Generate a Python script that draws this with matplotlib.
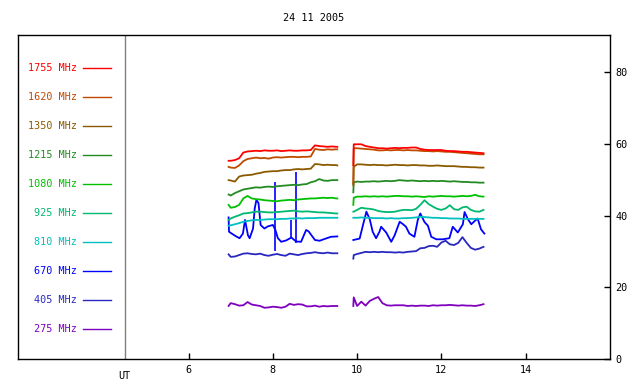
import numpy as np
import matplotlib
matplotlib.use('Agg')
import matplotlib.pyplot as plt

# frequencies (top to bottom in the legend) and colours
freqs = ['1755', '1620', '1350', '1215', '1080', '925', '810', '670', '405', '275']
colors = ['#ff0000', '#c04a00', '#8b5a00', '#228b22', '#00c000',
          '#00b870', '#00c0c0', '#0000ff', '#2828c0', '#8000c0']

# time grids (UT hours) for the two recorded segments
t1 = [6.95, 7.0, 7.1, 7.2, 7.3, 7.4, 7.5, 7.6, 7.7, 7.8, 7.9, 8.0, 8.1, 8.2,
      8.3, 8.4, 8.5, 8.6, 8.7, 8.8, 8.9, 9.0, 9.1, 9.2, 9.3, 9.4, 9.5, 9.53]
t2 = [9.91, 9.92, 10.0, 10.1, 10.2, 10.3, 10.4, 10.5, 10.6, 10.7, 10.8, 10.9,
      11.0, 11.1, 11.2, 11.3, 11.4, 11.5, 11.6, 11.7, 11.8, 11.9, 12.0, 12.1,
      12.2, 12.3, 12.4, 12.5, 12.6, 12.7, 12.8, 12.9, 13.0]

s1755_a = [55.3, 55.3, 55.5, 56.0, 57.6, 57.9, 58.0, 58.1, 58.0, 58.2, 58.1, 58.1, 58.2, 58.0,
           58.1, 58.2, 58.1, 58.1, 58.2, 58.2, 58.3, 59.6, 59.4, 59.3, 59.2, 59.3, 59.2, 59.2]
s1755_b = [54.1, 59.9, 59.9, 59.9, 59.4, 59.2, 59.0, 58.8, 58.8, 58.7, 58.8, 58.9, 58.8, 58.9,
           58.9, 59.0, 59.0, 58.6, 58.4, 58.3, 58.3, 58.3, 58.3, 58.1, 58.0, 58.0, 57.9, 57.8,
           57.8, 57.7, 57.6, 57.5, 57.4]

s1620_a = [53.6, 53.4, 53.3, 54.0, 55.2, 55.8, 56.0, 56.2, 56.0, 56.1, 55.9, 56.2, 56.3, 56.2,
           56.3, 56.4, 56.4, 56.3, 56.4, 56.4, 56.5, 58.6, 58.4, 58.3, 58.5, 58.4, 58.5, 58.5]
s1620_b = [49.0, 58.8, 58.8, 58.7, 58.6, 58.5, 58.4, 58.2, 58.2, 58.3, 58.2, 58.3, 58.3, 58.2,
           58.3, 58.2, 58.2, 58.1, 58.0, 58.0, 57.9, 58.0, 57.9, 57.8, 57.8, 57.7, 57.6, 57.5,
           57.4, 57.3, 57.2, 57.1, 57.1]

s1350_a = [49.9, 49.8, 49.5, 50.9, 51.2, 51.3, 51.4, 51.7, 51.9, 52.2, 52.3, 52.4, 52.4, 52.6,
           52.7, 52.7, 52.9, 53.0, 52.9, 53.0, 53.1, 54.4, 54.3, 54.1, 54.2, 54.1, 54.1, 54.0]
s1350_b = [48.5, 53.6, 54.3, 54.3, 54.2, 54.1, 54.2, 54.1, 54.1, 54.0, 54.1, 54.2, 54.1, 54.1,
           54.0, 54.1, 54.1, 54.0, 54.0, 53.9, 53.9, 54.0, 53.9, 53.8, 53.8, 53.8, 53.7, 53.6,
           53.6, 53.5, 53.5, 53.4, 53.4]

s1215_a = [45.9, 45.6, 46.3, 46.8, 47.3, 47.5, 47.7, 47.9, 47.8, 48.0, 48.1, 48.0, 48.2, 48.3,
           48.4, 48.5, 48.6, 48.5, 48.7, 48.8, 49.3, 49.6, 50.2, 49.8, 49.7, 49.9, 49.9, 49.9]
s1215_b = [46.5, 49.3, 49.5, 49.4, 49.5, 49.5, 49.6, 49.5, 49.6, 49.7, 49.6, 49.7, 49.9, 49.8,
           49.7, 49.8, 49.7, 49.6, 49.7, 49.6, 49.7, 49.6, 49.7, 49.6, 49.5, 49.6, 49.5, 49.4,
           49.4, 49.3, 49.3, 49.2, 49.2]

s1080_a = [43.0, 42.2, 42.4, 43.0, 44.8, 45.5, 44.8, 44.6, 44.5, 44.3, 44.2, 44.1, 44.0, 44.2,
           44.3, 44.4, 44.3, 44.5, 44.6, 44.7, 44.8, 44.8, 44.9, 45.0, 44.9, 45.0, 44.8, 44.8]
s1080_b = [43.0, 45.0, 45.3, 45.3, 45.4, 45.3, 45.4, 45.3, 45.4, 45.3, 45.4, 45.5, 45.5, 45.4,
           45.4, 45.3, 45.4, 45.3, 45.2, 45.4, 45.3, 45.4, 45.5, 45.4, 45.4, 45.3, 45.4, 45.5,
           45.4, 45.5, 45.8, 45.4, 45.3]

s925_a = [38.8, 39.2, 39.7, 40.1, 40.6, 40.7, 40.9, 41.1, 41.1, 41.0, 40.9, 40.9, 41.0, 41.1,
          41.2, 41.3, 41.4, 41.2, 41.1, 41.2, 41.1, 41.0, 40.9, 40.9, 40.8, 40.7, 40.6, 40.6]
s925_b = [41.1, 41.1, 41.6, 42.2, 42.0, 41.9, 41.7, 41.3, 41.1, 41.0, 41.0, 41.1, 41.4, 41.6,
          41.6, 41.5, 41.9, 43.0, 44.3, 43.2, 42.5, 41.9, 41.6, 42.0, 42.9, 41.8, 41.6, 42.3,
          42.5, 41.6, 41.2, 41.1, 41.6]

s810_a = [37.2, 37.3, 37.6, 37.9, 38.3, 38.5, 38.7, 38.8, 38.8, 38.9, 39.0, 39.0, 39.0, 39.1,
          39.1, 39.2, 39.2, 39.3, 39.2, 39.3, 39.3, 39.3, 39.4, 39.4, 39.4, 39.4, 39.4, 39.4]
s810_b = [39.4, 39.4, 39.4, 39.5, 39.4, 39.4, 39.3, 39.3, 39.3, 39.2, 39.3, 39.2, 39.2, 39.3,
          39.3, 39.4, 39.5, 39.7, 39.6, 39.5, 39.4, 39.4, 39.3, 39.3, 39.2, 39.2, 39.2, 39.1,
          39.1, 39.1, 39.1, 39.1, 39.1]

# 670 MHz is much more structured, so it has its own time points
t670_a = [6.95, 6.96, 7.05, 7.13, 7.21, 7.29, 7.34, 7.41, 7.45, 7.53, 7.57, 7.61, 7.66, 7.71,
          7.80, 7.88, 8.00, 8.06, 8.12, 8.20, 8.32, 8.44, 8.55, 8.67, 8.79, 8.85, 9.00, 9.11,
          9.23, 9.38, 9.53]
s670_a = [39.5, 35.5, 34.8, 34.2, 33.7, 35.0, 38.8, 34.5, 33.7, 36.4, 42.0, 44.4, 43.5, 37.4,
          36.4, 37.0, 37.4, 36.0, 33.7, 32.7, 33.1, 33.9, 32.8, 32.7, 36.0, 35.6, 33.2, 33.0,
          33.5, 34.1, 34.2]
t670_b = [9.91, 10.06, 10.14, 10.22, 10.30, 10.37, 10.45, 10.53, 10.57, 10.69, 10.81, 10.89,
          11.01, 11.09, 11.16, 11.24, 11.36, 11.44, 11.50, 11.60, 11.68, 11.76, 11.88, 12.03,
          12.19, 12.27, 12.39, 12.51, 12.55, 12.63, 12.71, 12.79, 12.86, 12.94, 13.02]
s670_b = [33.2, 33.6, 37.4, 41.1, 39.0, 35.5, 33.7, 35.5, 36.9, 35.3, 32.7, 34.5,
          38.3, 37.6, 36.9, 35.0, 34.1, 38.8, 40.6, 38.2, 37.2, 34.1, 33.4, 33.4,
          33.7, 36.9, 35.3, 37.6, 41.0, 39.0, 37.6, 38.5, 39.2, 36.2, 35.0]
# isolated spikes
spike_t = [8.04, 8.56, 8.44]
spike_lo = [30.0, 32.3, 33.9]
spike_hi = [49.5, 52.2, 38.8]

s405_a = [29.2, 28.5, 28.6, 29.0, 29.4, 29.5, 29.3, 29.2, 29.4, 29.0, 28.8, 29.1, 29.3, 29.0,
          28.8, 29.4, 29.2, 29.0, 29.3, 29.5, 29.6, 29.8, 29.6, 29.5, 29.7, 29.5, 29.5, 29.5]
s405_b = [28.0, 29.0, 29.3, 29.6, 29.9, 29.8, 29.9, 29.8, 29.9, 29.8, 29.8, 29.7, 29.8, 29.7,
          29.9, 30.0, 30.1, 30.9, 31.0, 31.5, 31.6, 31.3, 32.5, 33.0, 32.0, 31.8, 32.4, 34.0,
          32.4, 31.0, 30.5, 30.8, 31.3]

s275_a = [14.8, 15.6, 15.3, 14.9, 15.0, 15.9, 15.2, 15.0, 14.8, 14.3, 14.4, 14.6, 14.5, 14.3,
          14.6, 15.4, 15.1, 15.3, 15.2, 14.7, 14.7, 14.9, 14.6, 14.8, 14.7, 14.8, 14.8, 14.8]
s275_b = [14.8, 17.2, 14.8, 16.0, 14.9, 16.2, 16.8, 17.3, 15.6, 15.0, 14.9, 15.0, 15.0, 15.0,
          14.8, 14.9, 14.8, 14.9, 14.9, 14.8, 15.0, 14.9, 15.0, 15.0, 15.1, 15.0, 14.9, 15.0,
          14.9, 14.9, 14.8, 15.0, 15.3]

series = {
    '1755': [(t1, s1755_a), (t2, s1755_b)],
    '1620': [(t1, s1620_a), (t2, s1620_b)],
    '1350': [(t1, s1350_a), (t2, s1350_b)],
    '1215': [(t1, s1215_a), (t2, s1215_b)],
    '1080': [(t1, s1080_a), (t2, s1080_b)],
    '925': [(t1, s925_a), (t2, s925_b)],
    '810': [(t1, s810_a), (t2, s810_b)],
    '670': [(t670_a, s670_a), (t670_b, s670_b)],
    '405': [(t1, s405_a), (t2, s405_b)],
    '275': [(t1, s275_a), (t2, s275_b)],
}

mono = 'DejaVu Sans Mono'
fig = plt.figure(figsize=(6.4, 3.84), dpi=100)
ax = fig.add_axes([0.028, 0.065, 0.925, 0.844])

# draw lower frequencies first so the top ones sit over them
for f, c in reversed(list(zip(freqs, colors))):
    for t, v in series[f]:
        ax.plot(t, v, color=c, lw=1.3)
    if f == '670':
        ax.vlines(spike_t, spike_lo, spike_hi, color=c, lw=1.2)

# legend on the left side of the frame
for i, (f, c) in enumerate(zip(freqs, colors)):
    y = 81.2 - i * 8.1
    ax.text(3.36, y, '{0} MHz'.format(f), color=c, ha='right', va='center',
            fontsize=7.3, family=mono)
    ax.plot([3.49, 4.15], [y, y], color=c, lw=1)

ax.axvline(4.48, color='#808080', lw=1)

ax.set_xlim(1.95, 16.0)
ax.set_ylim(0, 90.4)
ax.set_xticks([6, 8, 10, 12, 14])
ax.yaxis.tick_right()
ax.set_yticks([0, 20, 40, 60, 80])
ax.tick_params(direction='in', length=4, width=1, labelsize=7.3, pad=4)
for lab in ax.get_xticklabels() + ax.get_yticklabels():
    lab.set_family(mono)
ax.text(4.48, -3.2, 'UT', ha='center', va='top', fontsize=7.3, family=mono)
for s in ax.spines.values():
    s.set_linewidth(1)

fig.text(0.49, 0.953, '24 11 2005', ha='center', va='center', fontsize=7.3, family=mono)

fig.savefig('out.png', dpi=100)
